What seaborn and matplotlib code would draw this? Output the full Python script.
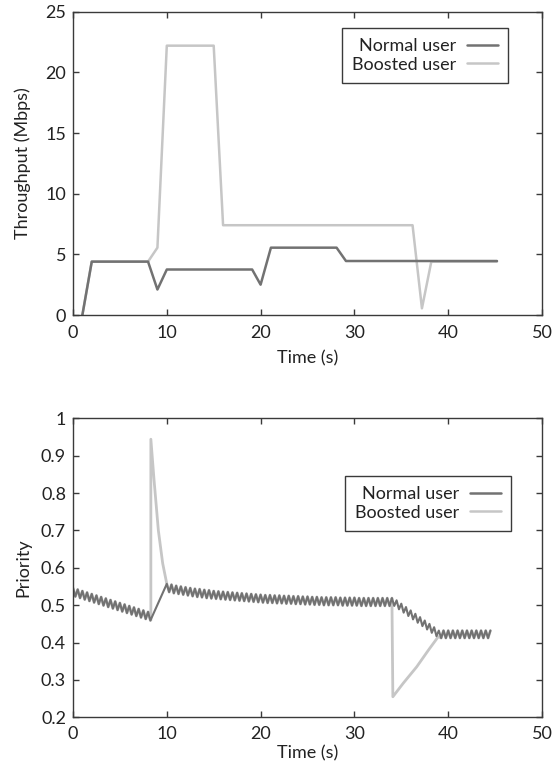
import numpy as np
import pandas as pd
import matplotlib
matplotlib.use("Agg")
import matplotlib.pyplot as plt
from matplotlib.lines import Line2D
import seaborn as sns

# ---------------- data ----------------
# Throughput (top panel)
thr_normal_t = [1.0, 2.0, 8.0, 9.0, 10.0, 19.1, 20.0, 21.1, 28.1, 29.1, 45.2]
thr_normal_v = [0.0, 4.4, 4.4, 2.1, 3.75, 3.75, 2.5, 5.55, 5.55, 4.45, 4.45]
thr_boost_t = [1.0, 2.0, 8.0, 9.0, 10.0, 15.0, 16.0, 36.2, 37.2, 38.2, 45.2]
thr_boost_v = [0.0, 4.4, 4.4, 5.55, 22.2, 22.2, 7.4, 7.4, 0.55, 4.4, 4.4]

# Priority (bottom panel), sampled every 0.25 s in four segments
step = 0.25
segA_start, segB_start, segC_start, segD_start = 0.0, 10.0, 34.25, 39.25
prio_A = [0.546, 0.523, 0.542, 0.519, 0.538, 0.515, 0.534, 0.511, 0.530, 0.507,
          0.526, 0.503, 0.522, 0.499, 0.518, 0.495, 0.514, 0.491, 0.510, 0.487,
          0.506, 0.483, 0.502, 0.479, 0.498, 0.475, 0.494, 0.471, 0.490, 0.467,
          0.486, 0.463, 0.482, 0.459]
prio_B = [0.557, 0.535, 0.555, 0.532, 0.552, 0.530, 0.550, 0.528, 0.548, 0.526,
          0.546, 0.524, 0.544, 0.522, 0.543, 0.521, 0.541, 0.519, 0.540, 0.518,
          0.538, 0.517, 0.537, 0.516, 0.536, 0.515, 0.535, 0.514, 0.534, 0.513,
          0.533, 0.512, 0.532, 0.511, 0.531, 0.510, 0.530, 0.509, 0.529, 0.508,
          0.528, 0.507, 0.527, 0.506, 0.527, 0.506, 0.526, 0.505, 0.526, 0.505,
          0.525, 0.504, 0.525, 0.504, 0.524, 0.503, 0.524, 0.503, 0.523, 0.502,
          0.523, 0.502, 0.522, 0.501, 0.522, 0.501, 0.521, 0.500, 0.521, 0.500,
          0.521, 0.500, 0.521, 0.500, 0.520, 0.499, 0.520, 0.499, 0.520, 0.499,
          0.520, 0.499, 0.519, 0.498, 0.519, 0.498, 0.519, 0.498, 0.519, 0.498,
          0.519, 0.498, 0.519, 0.498, 0.519, 0.498, 0.519]
prio_C = [0.498, 0.513, 0.489, 0.504, 0.480, 0.495, 0.471, 0.486, 0.462, 0.477,
          0.453, 0.468, 0.444, 0.459, 0.435, 0.450, 0.426, 0.441, 0.417, 0.432]
prio_D = [0.412, 0.432, 0.412, 0.432, 0.412, 0.432, 0.412, 0.432, 0.412, 0.432,
          0.412, 0.432, 0.412, 0.432, 0.412, 0.432, 0.412, 0.432, 0.412, 0.432,
          0.412, 0.432]
# Boosted user's own excursions (elsewhere it coincides with the normal user)
boost_spike_t = [8.3, 8.3, 8.64, 9.1, 9.56]
boost_spike_v = [0.46, 0.944, 0.835, 0.70, 0.612]
boost_dip_t = [34.1, 35.2, 36.64, 37.9, 38.95]
boost_dip_v = [0.255, 0.291, 0.335, 0.38, 0.416]

labels = ["Normal user", "Boosted user"]
c_normal = "#727272"
c_boost = "#c6c6c6"


def seg_times(start, vals):
    return list(start + step * np.arange(len(vals)))


tA = seg_times(segA_start, prio_A)
tB = seg_times(segB_start, prio_B)
tC = seg_times(segC_start, prio_C)
tD = seg_times(segD_start, prio_D)

pn = pd.DataFrame({"t": tA + tB + tC + tD, "v": prio_A + prio_B + prio_C + prio_D})
pb = pd.DataFrame({"t": tA + boost_spike_t + tB + boost_dip_t + tD,
                   "v": prio_A + boost_spike_v + prio_B + boost_dip_v + prio_D})
tn = pd.DataFrame({"t": thr_normal_t, "v": thr_normal_v})
tb = pd.DataFrame({"t": thr_boost_t, "v": thr_boost_v})

# ---------------- style ----------------
sns.set_style("ticks")
plt.rcParams["font.family"] = ["Lato", "DejaVu Sans"]
plt.rcParams["font.size"] = 13
text_c = "#222222"
spine_c = "#3a3a3a"

fig = plt.figure(figsize=(5.53, 7.67), dpi=100)
ax1 = fig.add_axes([73 / 553, 1 - 315 / 767, (542 - 73) / 553, (315 - 11.7) / 767])
ax2 = fig.add_axes([73 / 553, 1 - 717.3 / 767, (542 - 73) / 553, (717.3 - 418.3) / 767])


def draw(ax, dfn, dfb, lwb, lwn):
    sns.lineplot(data=dfb, x="t", y="v", color=c_boost, lw=lwb, estimator=None,
                 sort=False, ax=ax)
    sns.lineplot(data=dfn, x="t", y="v", color=c_normal, lw=lwn, estimator=None,
                 sort=False, ax=ax)
    return [Line2D([], [], color=c_normal, lw=1.8), Line2D([], [], color=c_boost, lw=1.8)]


h1 = draw(ax1, tn, tb, 1.8, 1.8)
h2 = draw(ax2, pn, pb, 2.0, 1.5)

for ax, lp in ((ax1, 7), (ax2, 3)):
    ax.set_xlim(0, 50)
    ax.set_xticks([0, 10, 20, 30, 40, 50])
    ax.set_xlabel("Time (s)", color=text_c, fontsize=13, labelpad=lp)
    ax.tick_params(direction="in", top=True, right=True, length=4, width=1,
                   colors=spine_c, labelcolor=text_c, labelsize=13)
    ax.tick_params(axis="x", pad=7 if ax is ax1 else 6)
    ax.tick_params(axis="y", pad=5)
    for s in ax.spines.values():
        s.set_color(spine_c)
        s.set_linewidth(1.0)

ax1.set_ylim(0, 25)
ax1.set_yticks([0, 5, 10, 15, 20, 25])
ax1.set_ylabel("Throughput (Mbps)", color=text_c, fontsize=13, labelpad=10)
ax2.set_ylim(0.2, 1.0)
ax2.set_yticks([0.2, 0.3, 0.4, 0.5, 0.6, 0.7, 0.8, 0.9, 1.0])
ax2.set_yticklabels(["0.2", "0.3", "0.4", "0.5", "0.6", "0.7", "0.8", "0.9", "1"])
ax2.set_ylabel("Priority", color=text_c, fontsize=13, labelpad=7)

for ax, h, anchor in ((ax1, h1, (0.927, 0.946)), (ax2, h2, (0.934, 0.807))):
    leg = ax.legend(h, labels, loc="upper right", bbox_to_anchor=anchor,
                    markerfirst=False, fancybox=False, framealpha=1,
                    edgecolor=spine_c, handlelength=1.7, handletextpad=0.6,
                    borderpad=0.55, labelspacing=0.15, fontsize=13,
                    borderaxespad=0)
    leg.get_frame().set_linewidth(1.0)
    for t in leg.get_texts():
        t.set_ha("right")
        t.set_color(text_c)

fig.savefig("out.png", dpi=100)
